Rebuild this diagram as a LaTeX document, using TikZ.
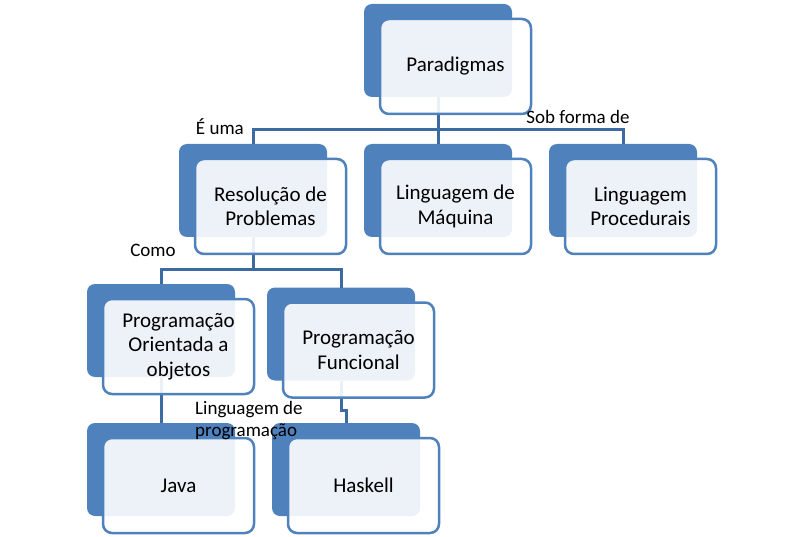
\documentclass[tikz,border=0pt]{standalone}
\usepackage{fontspec}
\setmainfont{Carlito}
\usepackage{xcolor}
\usetikzlibrary{
	positioning							% Relative positioning
}
\definecolor{boxblue}{HTML}{4F81BD}
\definecolor{linkblue}{HTML}{3D6BA1}

\begin{document}
\begin{tikzpicture}
		[
		,x=1pt, y=-1pt
		,node distance = 37pt
		,back_box/.style = {
			,fill=boxblue
			,minimum width=148pt
			,minimum height=93pt
			,inner sep=0pt
			,outer sep=0pt
			,rounded corners=8pt}
		,front_box/.style = {
			,draw=boxblue
			,fill=white
			,fill opacity=0.9
			,text opacity=1
			,line width=2.5pt
			,minimum width=151pt
			,minimum height=95pt
			,inner sep=2pt
			,outer sep=0pt
			,rounded corners=9pt
			,align=center
			,font=\fontsize{21}{24.5}\selectfont}
		,link/.style = {
			,draw=linkblue
			,line width=3pt}
		,text_label/.style = {
			,inner sep=0pt
			,font=\fontsize{19}{22}\selectfont}
		]
		\useasboundingbox (0,0) rectangle (800,537);
		
		% Back boxes
		\node [back_box] at (438,50.5)                 (parB)  {};
		\node [back_box, below=47pt of parB]           (maqB)  {};
		\node [back_box, left=of maqB]                 (resB)  {};
		\node [back_box, right=of maqB]                (procB) {};
		\node [back_box] at (161,330.5)                (pooB)  {};
		\node [back_box, right=32pt of pooB, yshift=-3.5pt] (funcB) {};
		\node [back_box, below=46pt of pooB]           (javaB) {};
		\node [back_box, right=of javaB]               (haskB) {};
		
		% Connectors
		\draw [link] (parB.south) -- ++(0,33) -| (resB.north);
		\draw [link] (parB.south) -- (maqB.north);
		\draw [link] (parB.south) -- ++(0,33) -| (procB.north);
		\draw [link] (resB.south) -- ++(0,33) -| (pooB.north);
		\draw [link] (resB.south) -- ++(0,33) -| (funcB.north);
		\draw [link] (pooB.south) -- (javaB.north);
		\draw [link] (funcB.south) -- ++(0,30) -| (haskB.north);
		
		% Front boxes
		\node [front_box, below right=15pt and 16pt of parB.north west]  (par)  {Paradigmas};
		\node [front_box, below right=15pt and 16pt of resB.north west]  (res)  {Resolução de\\Problemas};
		\node [front_box, below right=15pt and 16pt of maqB.north west]  (maq)  {Linguagem de\\Máquina};
		\node [front_box, below right=15pt and 16pt of procB.north west] (proc) {Linguagem\\Procedurais};
		\node [front_box, below right=15pt and 16pt of pooB.north west]  (poo)  {Programação\\Orientada a\\objetos};
		\node [front_box, below right=15pt and 16pt of funcB.north west] (func) {Programação\\Funcional};
		\node [front_box, below right=15pt and 16pt of javaB.north west] (java) {Java};
		\node [front_box, below right=15pt and 16pt of haskB.north west] (hask) {Haskell};
		
		% Labels
		\node [text_label, anchor=east] at (244,127)  (euma)     {É uma};
		\node [text_label] at (578,117)               (sobforma) {Sob forma de};
		\node [text_label] at (153,250)               (como)     {Como};
		\node [text_label, align=left, anchor=west] at (195,421) (lingprog) {Linguagem de\\programação};
	\end{tikzpicture}
\end{document}
